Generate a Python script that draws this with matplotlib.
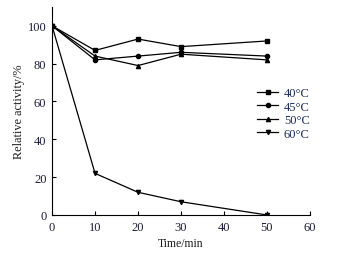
import matplotlib
matplotlib.use("Agg")
import matplotlib.pyplot as plt

# ================== DATA ==================

time_min = [0, 10, 20, 30, 50]
act_40 = [100, 87, 93, 89, 92]
act_45 = [100, 82, 84, 86, 84]
act_50 = [100, 84, 79, 85, 82]
act_60 = [100, 22, 12, 7, 0]

labels = ["40\u00b0C", "45\u00b0C", "50\u00b0C", "60\u00b0C"]
markers = ["s", "o", "^", "v"]

x_ticks = [0, 10, 20, 30, 40, 50, 60]
y_ticks = [0, 20, 40, 60, 80, 100]

# ================== PLOT ==================

plt.rcParams["font.family"] = ["Liberation Serif", "DejaVu Serif"]
plt.rcParams["font.size"] = 9

fig = plt.figure(figsize=(3.38, 2.55), dpi=100)
ax = fig.add_axes([0.154, 0.153, 0.763, 0.816])

for series, lab, mk in zip([act_40, act_45, act_50, act_60], labels, markers):
    ax.plot(time_min, series, color="black", linewidth=0.9, marker=mk,
            markersize=3, label=lab)

ax.set_xlim(0, 60)
ax.set_ylim(0, 110)
ax.set_xticks(x_ticks)
ax.set_yticks(y_ticks)
ax.spines["top"].set_visible(False)
ax.spines["right"].set_visible(False)
ax.spines["left"].set_linewidth(0.8)
ax.spines["bottom"].set_linewidth(0.8)
ax.tick_params(direction="in", length=3, width=0.8, pad=4,
               labelsize=9, labelcolor="#1c1c3a")

ax.set_xlabel("Time/min", labelpad=3, fontsize=8.5, color="#1c1c1c")
ax.set_ylabel("Relative activity/%", labelpad=2, fontsize=8.8, color="#1c1c1c")

leg = ax.legend(loc="upper left", bbox_to_anchor=(0.795, 0.615), frameon=False,
                handlelength=1.7, handletextpad=0.45, labelspacing=0.12,
                borderpad=0.0, borderaxespad=0.0, fontsize=9)
for t in leg.get_texts():
    t.set_color("#1a2a5a")

fig.savefig("out.png", dpi=100)
